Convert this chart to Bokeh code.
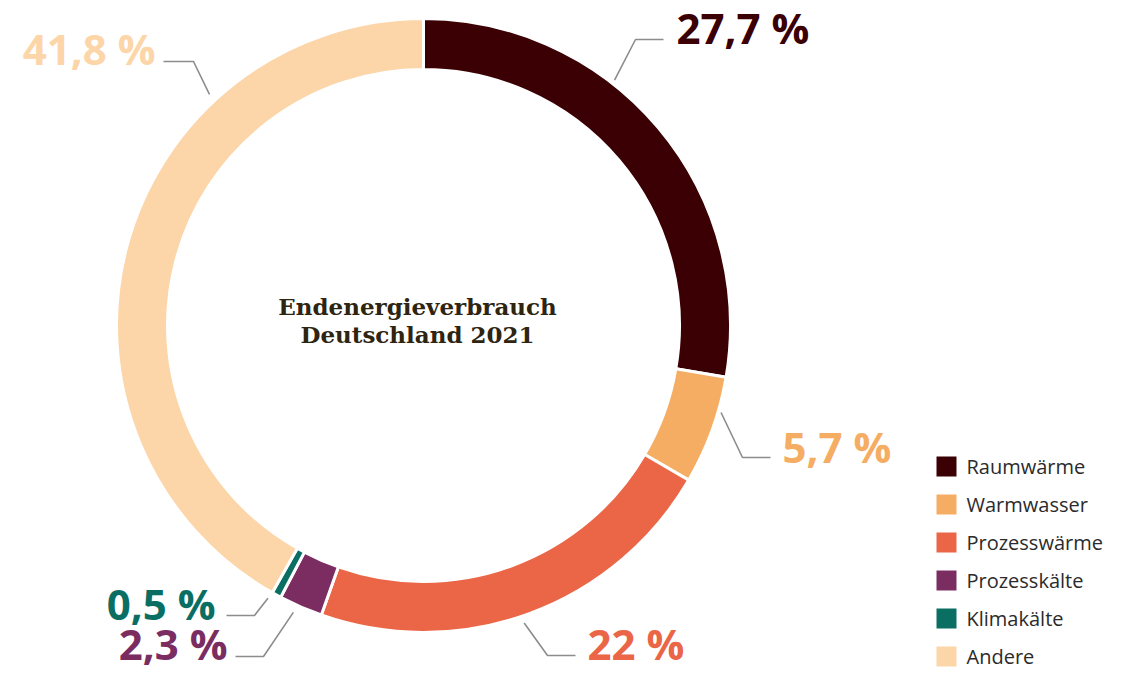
import math
import numpy as np
from bokeh.plotting import figure
from bokeh.models import Range1d, ColumnDataSource
from bokeh.core.properties import value
from bokeh.embed import file_html
from bokeh.resources import INLINE

# ---------------- data ----------------
categories = ["Raumwärme", "Warmwasser", "Prozesswärme", "Prozesskälte", "Klimakälte", "Andere"]
shares = [27.7, 5.7, 22.0, 2.3, 0.5, 41.8]
share_labels = ["27,7 %", "5,7 %", "22 %", "2,3 %", "0,5 %", "41,8 %"]
colors = ["#3a0003", "#f5ad64", "#eb6547", "#7b2d62", "#0b6e62", "#fcd5a8"]
title_lines = ["Endenergieverbrauch", "Deutschland 2021"]

# ---------------- layout (screen pixels) ----------------
W, H = 1105, 672
def Y(py):
    return H - py

CX, CY = 423, 325
R_OUT, R_IN = 307, 256

# leader: start angle (deg clockwise from top), start radius, elbow, end, text pos (cap centre), align
leaders = [
    (37.9, 311, (635, 39), (663, 39), (676, 27), "left"),
    (106.3, 310, (742, 457), (770, 457), (782, 446), "left"),
    (161.3, 314, (547, 655), (575, 655), (587, 643), "left"),
    (204.4, 315, (263, 656), (235, 656), (227, 643), "right"),
    (209.7, 314, (254, 615), (226, 615), (215, 603), "right"),
    (317.2, 315, (193, 61), (163, 61), (155, 48), "right"),
]

p = figure(width=W, height=H, x_range=Range1d(0, W), y_range=Range1d(0, H),
           output_backend="svg", toolbar_location=None, min_border=0)
p.axis.visible = False
p.grid.visible = False
p.outline_line_color = None
p.background_fill_color = "white"
p.border_fill_color = "white"

# ---------------- donut ----------------
vals = np.array(shares, dtype=float)
frac = vals / vals.sum()
cum_end = np.cumsum(frac)
cum_start = cum_end - frac
start_ang = np.pi / 2 - 2 * np.pi * cum_start
end_ang = np.pi / 2 - 2 * np.pi * cum_end
src = ColumnDataSource(dict(x=[CX] * len(vals), y=[Y(CY)] * len(vals), start=start_ang, end=end_ang,
                            color=colors, cat=categories))
p.annular_wedge(x="x", y="y", inner_radius=R_IN, outer_radius=R_OUT, start_angle="start", end_angle="end",
                direction="clock", fill_color="color", line_color="white", line_width=3, source=src)

# ---------------- leaders & labels ----------------
for i, (ang, r, elbow, end, tpos, align) in enumerate(leaders):
    a = math.radians(ang)
    sx = CX + r * math.sin(a)
    sy = CY - r * math.cos(a)
    p.line([sx, elbow[0], end[0]], [Y(sy), Y(elbow[1]), Y(end[1])], line_color="#8c8c8c", line_width=1.6)
    p.text(x=[tpos[0]], y=[Y(tpos[1])], text=[share_labels[i]], text_color=colors[i],
           text_font=value("Open Sans"), text_font_style="bold", text_font_size="42px",
           text_align=align, text_baseline="middle")

# ---------------- center title ----------------
p.text(x=[417, 417], y=[Y(306), Y(334)], text=title_lines, text_color="#2e2410",
       text_font=value("DejaVu Serif"), text_font_style="bold", text_font_size="23px",
       text_align="center", text_baseline="middle")

# ---------------- legend ----------------
ly = [Y(466 + 38 * i) for i in range(len(categories))]
p.scatter(x=[946] * len(categories), y=ly, marker="square", size=20, fill_color=colors, line_color=None)
p.text(x=[966] * len(categories), y=ly, text=categories, text_color="#2b2b2b",
       text_font=value("Open Sans"), text_font_size="20px", text_align="left", text_baseline="middle")

open("out.html", "w").write(file_html(p, INLINE))
